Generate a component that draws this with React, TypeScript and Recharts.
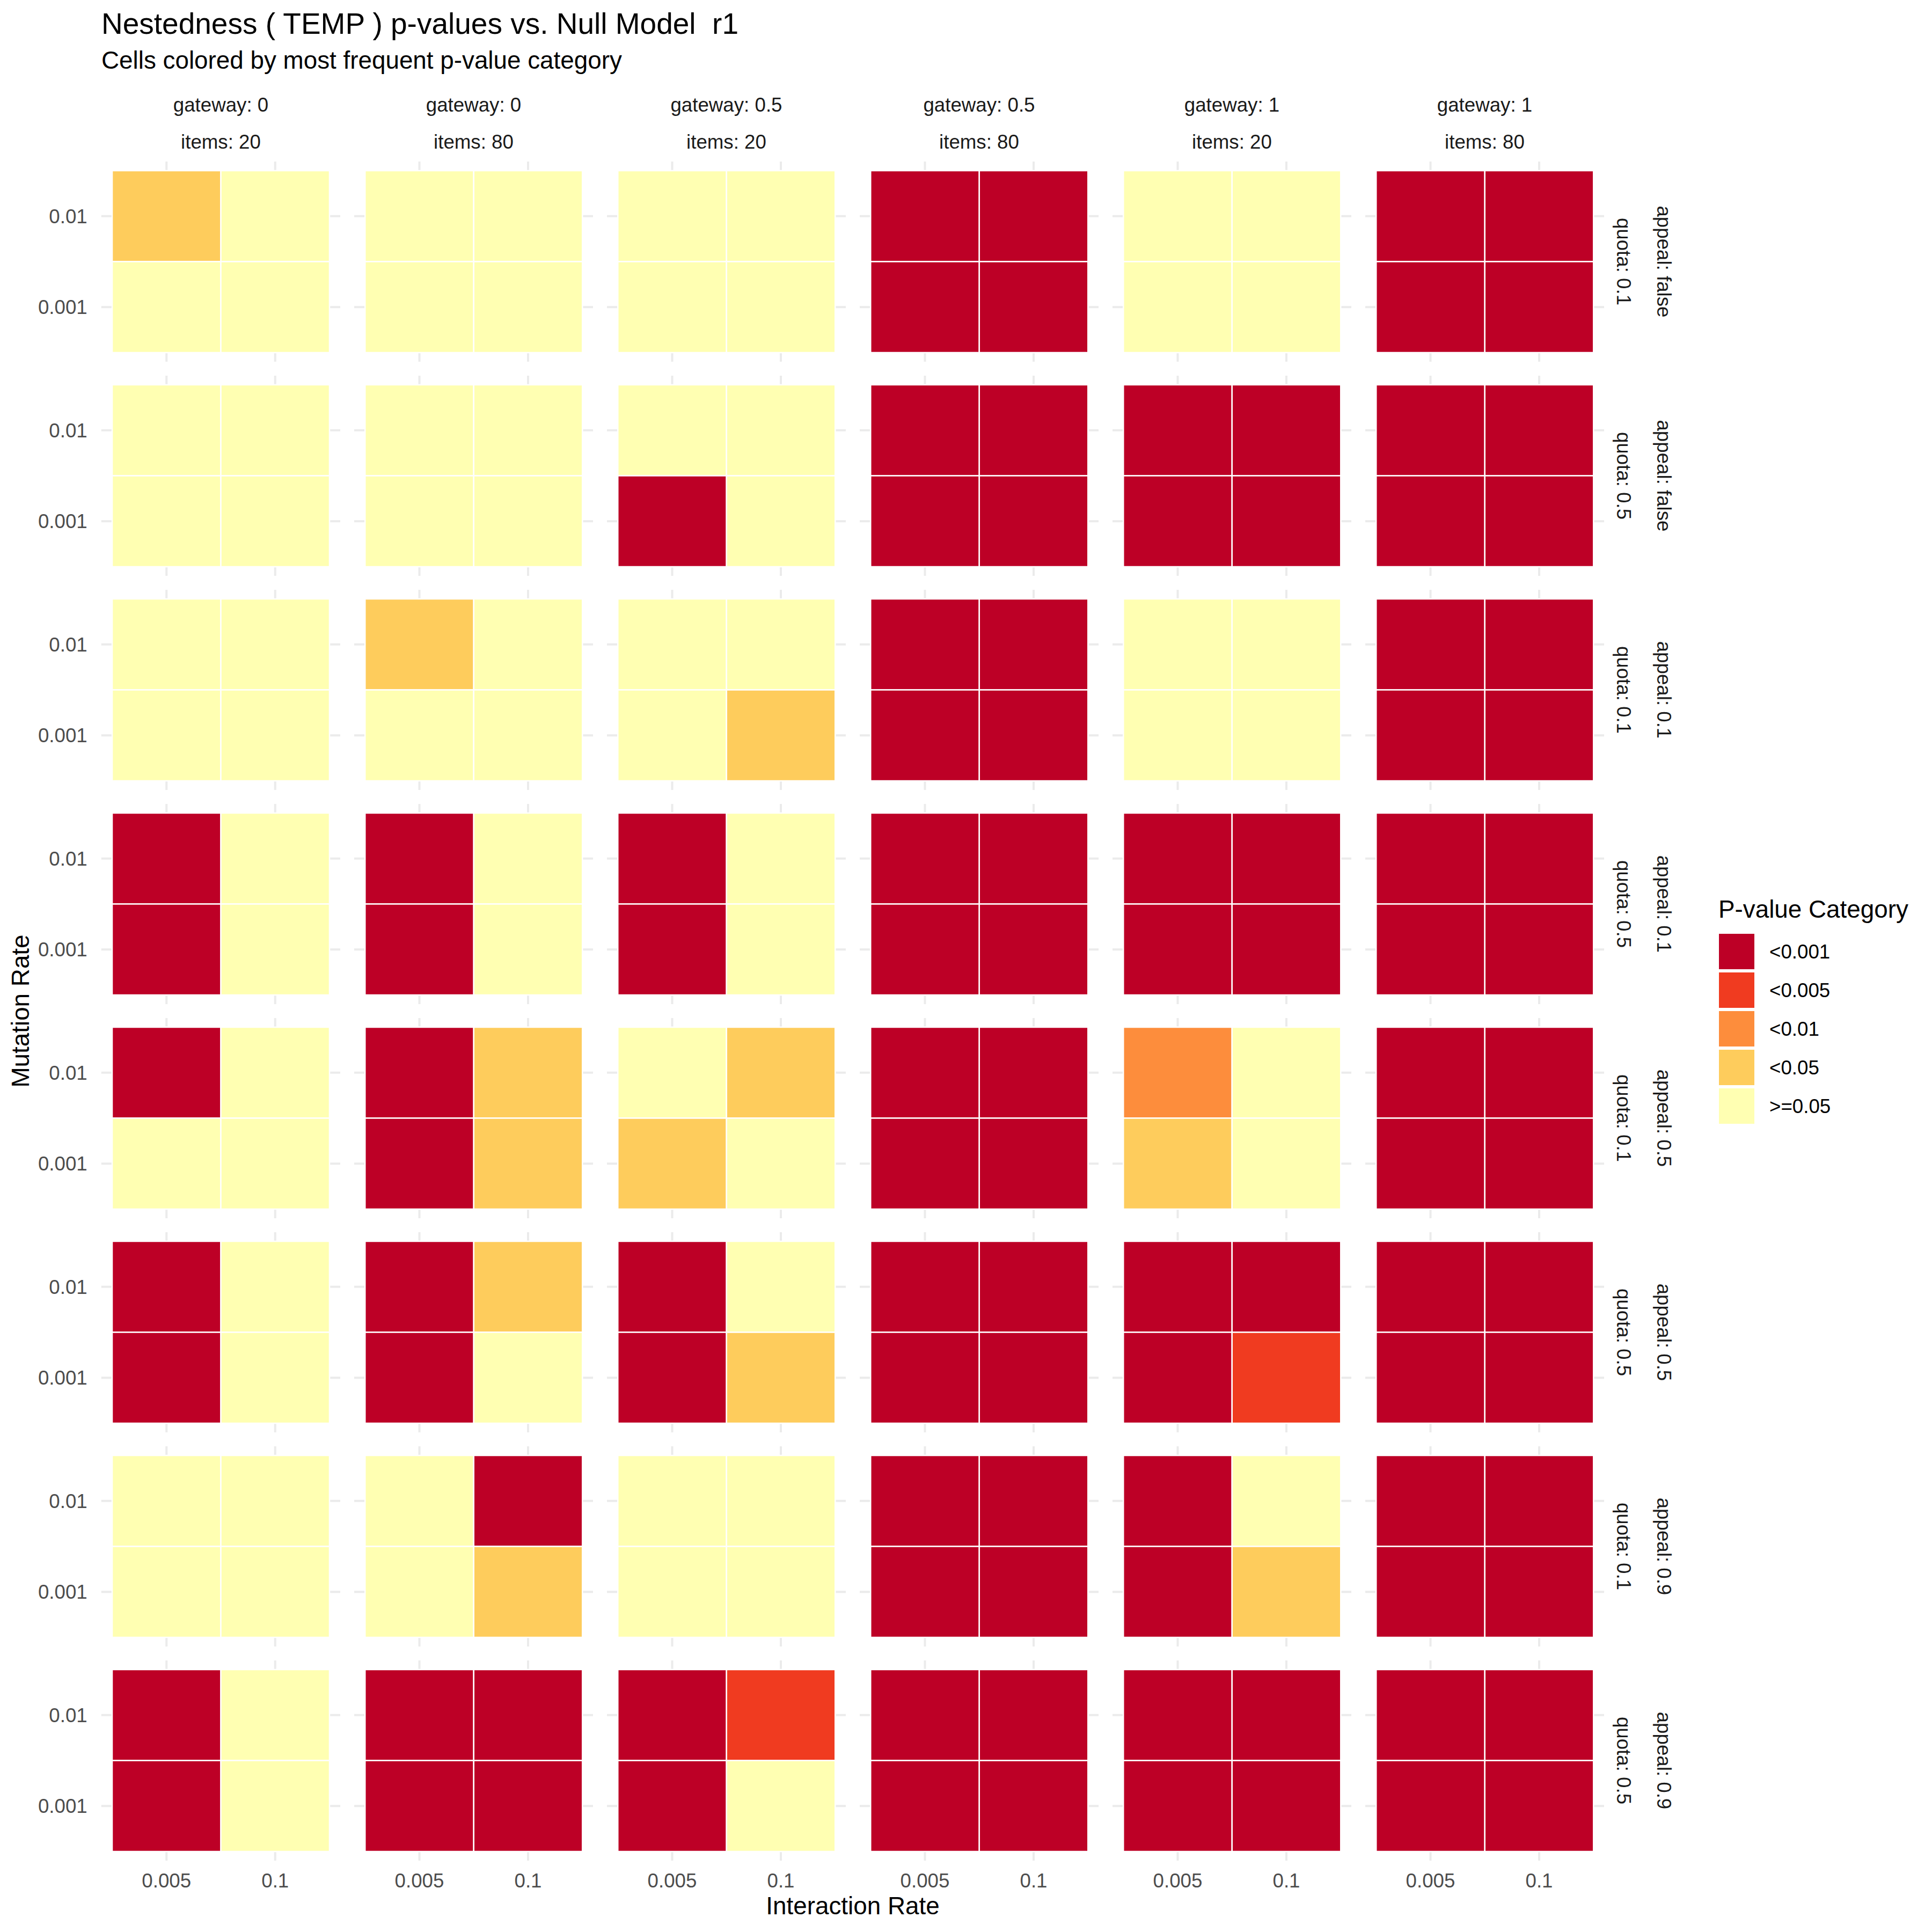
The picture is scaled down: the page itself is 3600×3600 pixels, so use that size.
import { ScatterChart, Scatter, XAxis, YAxis, CartesianGrid, ReferenceArea } from "recharts";

const interactionRates = ["0.005", "0.1"];
const mutationRates = ["0.001", "0.01"];
const gateways = ["0", "0", "0.5", "0.5", "1", "1"];
const items = ["20", "80", "20", "80", "20", "80"];
const appeals = ["false", "false", "0.1", "0.1", "0.5", "0.5", "0.9", "0.9"];
const quotas = ["0.1", "0.5", "0.1", "0.5", "0.1", "0.5", "0.1", "0.5"];
const categories = ["<0.001", "<0.005", "<0.01", "<0.05", ">=0.05"];
const categoryColors = ["#BD0026", "#F03B20", "#FD8D3C", "#FECC5C", "#FFFFB2"];

// most frequent category (index into categories) for each cell.
// one line per row of facets, 6 panels per line, each panel:
// [mut 0.01 / int 0.005, mut 0.01 / int 0.1, mut 0.001 / int 0.005, mut 0.001 / int 0.1]
const modeCategory = [
  [[3, 4, 4, 4], [4, 4, 4, 4], [4, 4, 4, 4], [0, 0, 0, 0], [4, 4, 4, 4], [0, 0, 0, 0]],
  [[4, 4, 4, 4], [4, 4, 4, 4], [4, 4, 0, 4], [0, 0, 0, 0], [0, 0, 0, 0], [0, 0, 0, 0]],
  [[4, 4, 4, 4], [3, 4, 4, 4], [4, 4, 4, 3], [0, 0, 0, 0], [4, 4, 4, 4], [0, 0, 0, 0]],
  [[0, 4, 0, 4], [0, 4, 0, 4], [0, 4, 0, 4], [0, 0, 0, 0], [0, 0, 0, 0], [0, 0, 0, 0]],
  [[0, 4, 4, 4], [0, 3, 0, 3], [4, 3, 3, 4], [0, 0, 0, 0], [2, 4, 3, 4], [0, 0, 0, 0]],
  [[0, 4, 0, 4], [0, 3, 0, 4], [0, 4, 0, 3], [0, 0, 0, 0], [0, 0, 0, 1], [0, 0, 0, 0]],
  [[4, 4, 4, 4], [4, 0, 4, 3], [4, 4, 4, 4], [0, 0, 0, 0], [0, 4, 0, 3], [0, 0, 0, 0]],
  [[0, 4, 0, 4], [0, 0, 0, 0], [0, 1, 0, 4], [0, 0, 0, 0], [0, 0, 0, 0], [0, 0, 0, 0]],
];

const FONT = "'Liberation Sans', Arial, Helvetica, sans-serif";
// panel geometry
const PX = 188.75;
const PY = 301;
const PW = 445.5;
const PH = 373;
const DX = 471;
const DY = 399;
const XH = 100;

const tickStyle = { fill: "#4D4D4D", fontSize: 36.7, fontFamily: FONT };

function Panel({ row, col }: { row: number; col: number }) {
  const first = col === 0;
  const last = row === modeCategory.length - 1;
  const data = modeCategory[row][col].map((cat, k) => ({
    x: k % 2,
    y: k < 2 ? 1 : 0,
    cat,
  }));
  return (
    <div style={{ position: "absolute", left: first ? 0 : PX + col * DX, top: PY + row * DY }}>
      <ScatterChart
        width={first ? PX + PW : PW}
        height={last ? PH + XH : PH}
        margin={{ top: 0, right: 0, bottom: 0, left: 0 }}
      >
        <CartesianGrid
          stroke="#EBEBEB"
          strokeWidth={4}
          horizontalValues={[0, 1]}
          verticalValues={[0, 1]}
        />
        <XAxis
          type="number"
          dataKey="x"
          domain={[-0.6, 1.6]}
          ticks={[0, 1]}
          tickFormatter={(v) => interactionRates[v]}
          hide={!last}
          height={XH}
          axisLine={false}
          tickLine={false}
          tickSize={0}
          tickMargin={24}
          tick={tickStyle}
        />
        <YAxis
          type="number"
          dataKey="y"
          domain={[-0.6, 1.6]}
          ticks={[0, 1]}
          tickFormatter={(v) => mutationRates[v]}
          hide={!first}
          width={PX}
          axisLine={false}
          tickLine={false}
          tickSize={0}
          tickMargin={26}
          tick={tickStyle}
        />
        {data.map((d, k) => (
          <ReferenceArea
            key={k}
            x1={d.x - 0.5}
            x2={d.x + 0.5}
            y1={d.y - 0.5}
            y2={d.y + 0.5}
            fill={categoryColors[d.cat]}
            fillOpacity={1}
            stroke="#FFFFFF"
            strokeWidth={2.5}
          />
        ))}
        <Scatter data={data} fill="none" isAnimationActive={false} />
      </ScatterChart>
    </div>
  );
}

export default function App() {
  return (
    <div
      style={{
        position: "absolute",
        left: 0,
        top: 0,
        width: 3600,
        height: 3600,
        background: "#FFFFFF",
        fontFamily: FONT,
      }}
    >
      {modeCategory.map((r, ri) => r.map((_, ci) => <Panel key={`${ri}-${ci}`} row={ri} col={ci} />))}
      <svg
        width={3600}
        height={3600}
        style={{ position: "absolute", left: 0, top: 0, pointerEvents: "none" }}
        fontFamily={FONT}
      >
        <text x={189} y={63} fontSize={55} fill="#000" style={{ whiteSpace: "pre" }}>
          {"Nestedness ( TEMP ) p-values vs. Null Model  r1"}
        </text>
        <text x={189} y={128} fontSize={45.8} fill="#000">
          Cells colored by most frequent p-value category
        </text>
        {gateways.map((g, c) => (
          <g key={c} fontSize={36.7} fill="#1A1A1A" textAnchor="middle">
            <text x={PX + c * DX + PW / 2} y={208}>{`gateway: ${g}`}</text>
            <text x={PX + c * DX + PW / 2} y={277}>{`items: ${items[c]}`}</text>
          </g>
        ))}
        {appeals.map((a, r) => {
          const yc = PY + r * DY + PH / 2;
          return (
            <g key={r} fontSize={36.7} fill="#1A1A1A" textAnchor="middle">
              <text transform={`translate(3013, ${yc}) rotate(90)`}>{`quota: ${quotas[r]}`}</text>
              <text transform={`translate(3088, ${yc}) rotate(90)`}>{`appeal: ${a}`}</text>
            </g>
          );
        })}
        <text x={1589} y={3567} fontSize={45.8} fill="#000" textAnchor="middle">
          Interaction Rate
        </text>
        <text transform="translate(54, 1884) rotate(-90)" fontSize={45.8} fill="#000" textAnchor="middle">
          Mutation Rate
        </text>
        <text x={3202} y={1710} fontSize={45.8} fill="#000">
          P-value Category
        </text>
        {categories.map((c, i) => (
          <g key={c}>
            <rect x={3203} y={1740 + i * 72} width={66} height={66} fill={categoryColors[i]} />
            <text x={3297} y={1773 + i * 72} dy="0.36em" fontSize={36.7} fill="#000">
              {c}
            </text>
          </g>
        ))}
      </svg>
    </div>
  );
}
